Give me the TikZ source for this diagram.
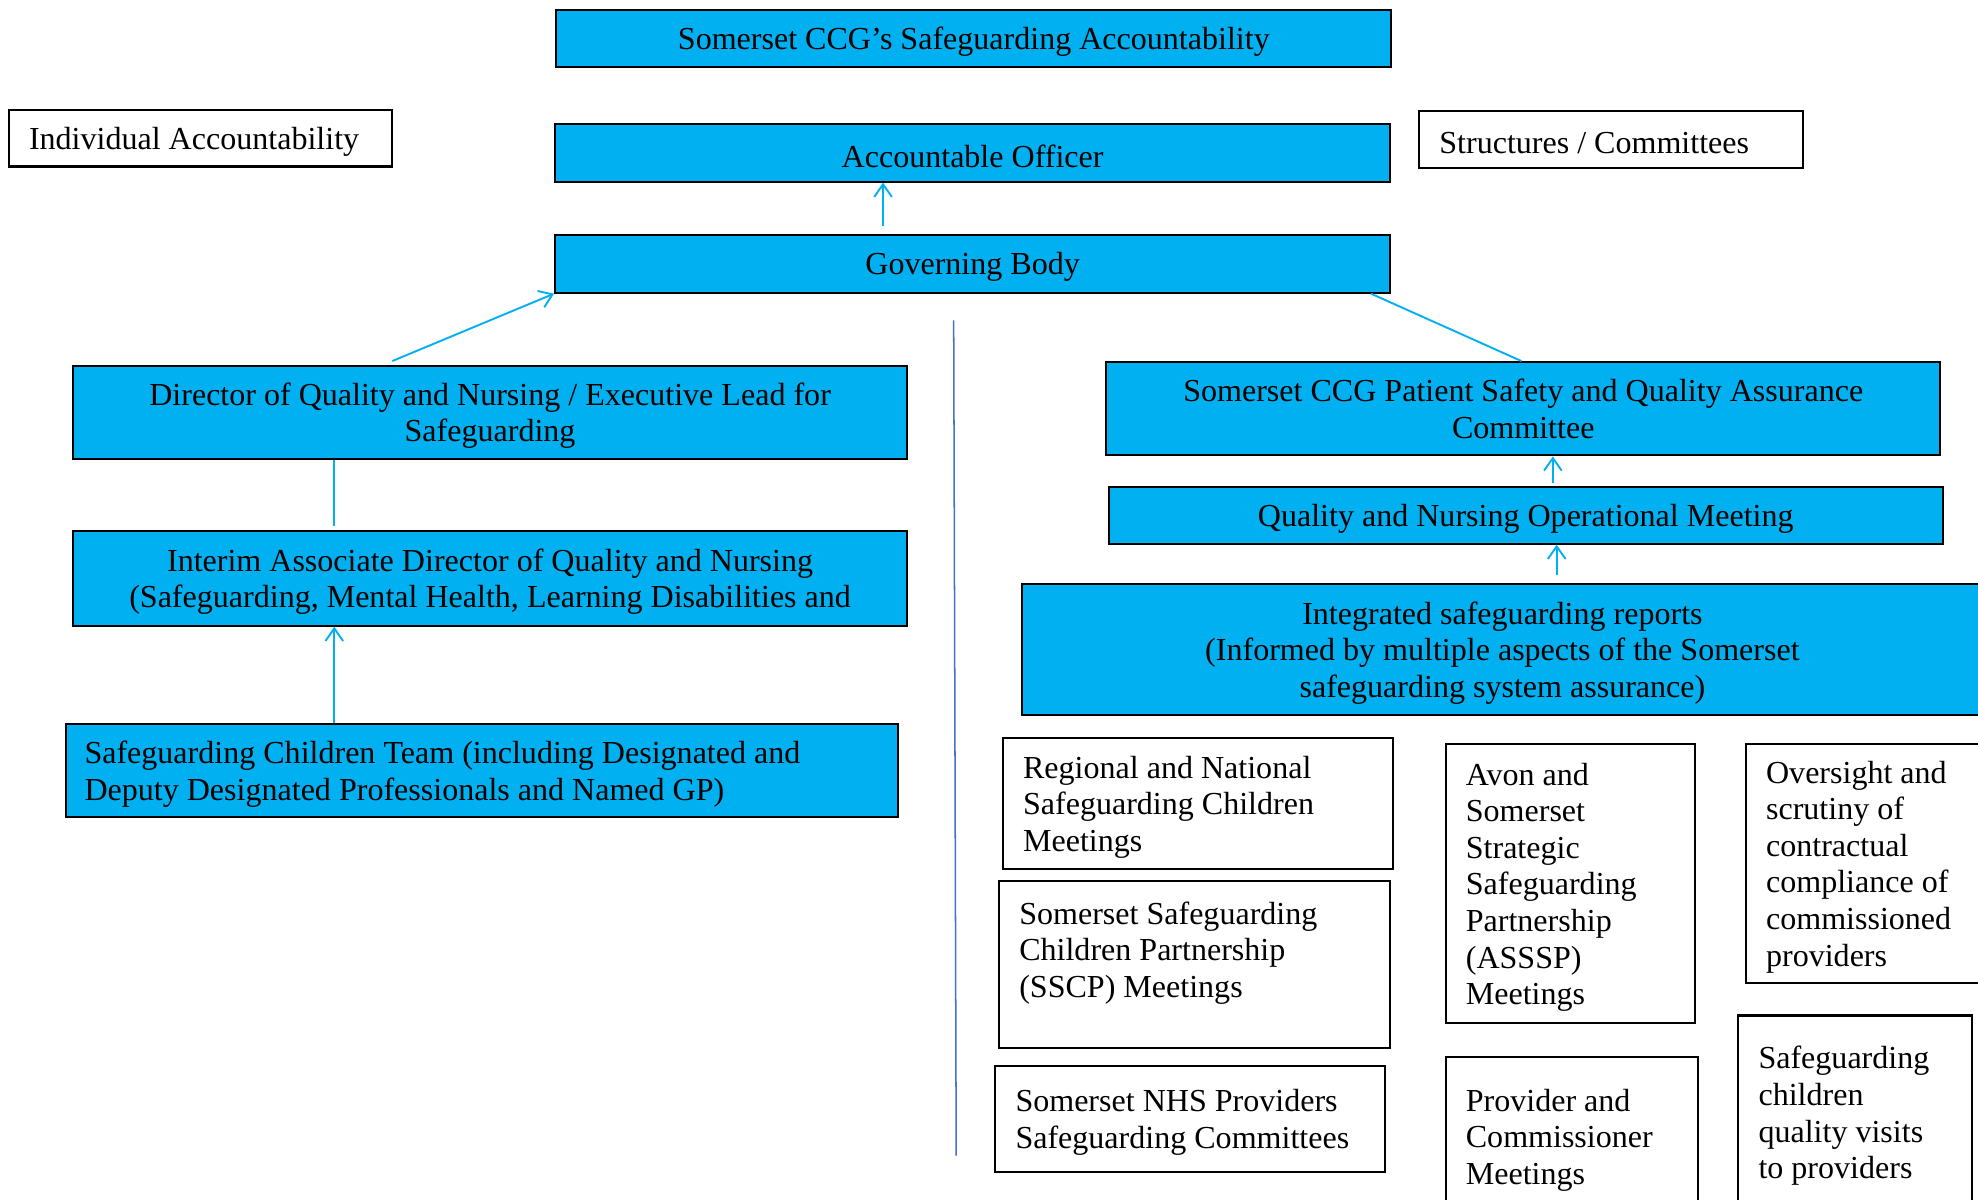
\documentclass[tikz,border=0pt]{standalone}
\usepackage{fontspec}
\setmainfont{Liberation Serif}
\usetikzlibrary{arrows.meta}
\definecolor{ccgblue}{HTML}{00B0F0}
\definecolor{divblue}{HTML}{4472C4}

\begin{document}
\begin{tikzpicture}[
    x=0.5pt, y=-0.5pt,
    font=\fontsize{12.7}{14.5}\selectfont,
    execute at begin node={\spaceskip=\fontdimen2\font\relax\xspaceskip=0pt\rule{0pt}{11.6pt}},
    bluebox/.style={draw=black, line width=0.8pt, fill=ccgblue,
      align=center, inner sep=0pt},
    plainbox/.style={draw=black, line width=0.8pt, fill=white,
      align=left, inner xsep=8pt, inner ysep=0pt},
    link/.style={draw=ccgblue, line width=0.75pt},
    uplink/.style={link, -{Straight Barb[length=5pt,width=7pt]}},
    divider/.style={draw=divblue, line width=0.6pt},
  ]
  \useasboundingbox (0,0) rectangle (1568,951);

  \node[bluebox, minimum width=331pt, minimum height=22.5pt] (title) at (772,30.5)
    {Somerset CCG’s Safeguarding Accountability};
  \node[plainbox, text width=136pt, minimum height=22.5pt] (indiv) at (159,109.5)
    {Individual Accountability};
  \node[bluebox, minimum width=331pt, minimum height=23pt] (officer) at (771,121)
    {Accountable Officer};
  \node[plainbox, text width=136pt, minimum height=22.5pt] (struct) at (1277,110.5)
    {Structures / Committees};
  \node[bluebox, minimum width=331pt, minimum height=23pt] (govbody) at (771,209)
    {Governing Body};

  \node[bluebox, text width=330.5pt, minimum height=37pt] (director) at (388.5,327)
    {Director of Quality and Nursing / Executive Lead for\\Safeguarding};
  \node[bluebox, text width=330.5pt, minimum height=37.5pt] (interim) at (388.5,458.5)
    {Interim Associate Director of Quality and Nursing\\(Safeguarding, Mental Health, Learning Disabilities and};
  \node[bluebox, align=left, text width=315pt, inner xsep=7.5pt, minimum height=37pt] (sgteam) at (382,611)
    {Safeguarding Children Team (including Designated and\\Deputy Designated Professionals and Named GP)};

  \node[bluebox, minimum width=330.5pt, minimum height=37pt] (psqa) at (1207.5,324)
    {Somerset CCG Patient Safety and Quality Assurance\\Committee};
  \node[bluebox, minimum width=330.5pt, minimum height=22.5pt] (qnom) at (1209.5,408.5)
    {Quality and Nursing Operational Meeting};
  \node[bluebox, text width=381pt, minimum height=52pt] (reports) at (1191,515)
    {Integrated safeguarding reports\\(Informed by multiple aspects of the Somerset\\safeguarding system assurance)};

  \node[plainbox, text width=138.5pt, minimum height=52pt] (regional) at (949.5,637)
    {Regional and National\\Safeguarding Children\\Meetings};
  \node[plainbox, text width=139pt, minimum height=66.5pt] (sscp) at (947,764.5)
    {Somerset Safeguarding\\Children Partnership\\(SSCP) Meetings\\\mbox{}};
  \node[plainbox, text width=138.5pt, minimum height=42pt] (nhs) at (943.5,887)
    {Somerset NHS Providers\\Safeguarding Committees};
  \node[plainbox, text width=83pt, minimum height=110.5pt] (asssp) at (1245,700.5)
    {Avon and\\Somerset\\Strategic\\Safeguarding\\Partnership\\(ASSSP)\\Meetings};
  \node[plainbox, text width=84pt, minimum height=63pt] (provider) at (1246,901)
    {Provider and\\Commissioner\\Meetings};
  \node[plainbox, text width=78pt, minimum height=94.5pt] (oversight) at (1478,684.5)
    {Oversight and\\scrutiny of\\contractual\\compliance of\\commissioned\\providers};
  \node[plainbox, text width=76.5pt, minimum height=77pt] (visits) at (1470.5,882)
    {Safeguarding\\children\\quality visits\\to providers};

  \draw[uplink] ([xshift=-35.5pt,yshift=3pt]govbody.north) -- ([xshift=-35.5pt]officer.south);
  \draw[uplink] ([xshift=-38.75pt,yshift=1.5pt]director.north) -- (govbody.south west);
  \draw[link] ([xshift=-8pt]govbody.south east) -- ([xshift=-0.75pt]psqa.north);
  \draw[link] ([xshift=-61.75pt]director.south) -- ([xshift=-61.75pt,yshift=1.5pt]interim.north);
  \draw[uplink] ([xshift=-58.5pt]sgteam.north) -- ([xshift=-61.75pt]interim.south);
  \draw[uplink] ([xshift=10.75pt,yshift=1pt]qnom.north) -- ([xshift=11.75pt]psqa.south);
  \draw[uplink] ([xshift=21.5pt,yshift=3pt]reports.north) -- ([xshift=12.25pt]qnom.south);

  \coordinate (divtop) at (756,254);
  \coordinate (divbot) at (758,916);
  \draw[divider] (divtop) -- (divbot);
\end{tikzpicture}
\end{document}
